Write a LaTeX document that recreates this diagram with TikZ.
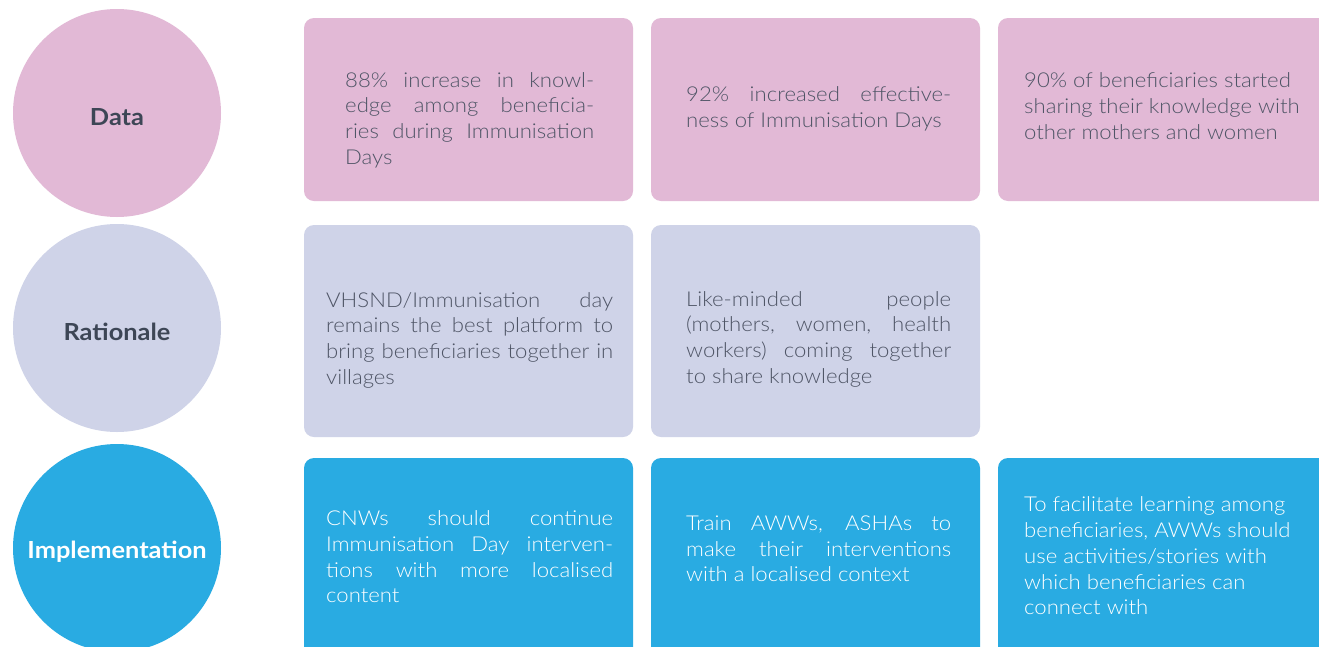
\documentclass[tikz,border=0pt]{standalone}
\usepackage{fontspec}
\setmainfont{Lato}[UprightFont=* Light, BoldFont=* Bold, FakeStretch=1.08]
\definecolor{datapink}{HTML}{E2B9D6}
\definecolor{ratlav}{HTML}{CFD3E8}
\definecolor{implblue}{HTML}{29ABE2}
\definecolor{bodygray}{HTML}{4F5566}
\definecolor{labeldark}{HTML}{3D4656}
% one justified line of fixed width, one natural line, and a block of lines
\newcommand\jl[2]{\hbox to #1{#2}}
\newcommand\rl[1]{\hbox{#1}}
\newcommand\blk[1]{\vbox{\baselineskip=25.7pt\lineskiplimit=-10pt #1}}
\tikzset{
  cat/.style={circle, minimum size=208pt, inner sep=0pt},
  catlabel/.style={inner sep=0pt, yshift=-4pt, font=\fontsize{23.5}{26}\selectfont\bfseries},
  card/.style={rounded corners=10pt},
  txt/.style={inner sep=0pt, anchor=west, font=\fontsize{20.5}{25.7}\selectfont},
}
\begin{document}
\begin{tikzpicture}[x=1pt, y=-1pt]
\useasboundingbox (0,0) rectangle (1319,646);
\clip (0,0) rectangle (1319,646);
\fill[white] (0,0) rectangle (1319,646);

% category circles and their labels
\node[cat, fill=datapink] (data) at (117,113) {};
\node[cat, fill=ratlav] (rat) at (117,328) {};
\node[cat, fill=implblue] (impl) at (117,548) {};
\node[catlabel, text=labeldark] (datalbl) at (data.center) {Data};
\node[catlabel, text=labeldark] (ratlbl) at (rat.center) {Rationale};
\node[catlabel, text=white] (impllbl) at (impl.center) {Implementation};

% cards
\fill[card, datapink] (304,18) rectangle (633,201);
\fill[card, datapink] (651,18) rectangle (980,201);
\fill[card, datapink] (998,18) rectangle (1340,201);
\fill[card, ratlav] (304,225) rectangle (633,437);
\fill[card, ratlav] (651,225) rectangle (980,437);
\fill[card, implblue] (304,458) rectangle (633,670);
\fill[card, implblue] (651,458) rectangle (980,670);
\fill[card, implblue] (998,458) rectangle (1340,670);

% data texts
\node[txt, text=bodygray] (d1) at (345,120) {\blk{%
  \jl{249pt}{88\% increase in knowl-}
  \jl{249pt}{edge among beneficia-}
  \jl{249pt}{ries during Immunisation}
  \rl{Days}}};
\node[txt, text=bodygray] (d2) at (686,109) {\blk{%
  \jl{265pt}{92\% increased effective-}
  \rl{ness of Immunisation Days}}};
\node[txt, text=bodygray] (d3) at (1024,106) {\blk{%
  \rl{90\% of beneficiaries started}
  \rl{sharing their knowledge with}
  \rl{other mothers and women}}};

% rationale texts
\node[txt, text=bodygray] (r1) at (326,340) {\blk{%
  \jl{287pt}{VHSND/Immunisation day}
  \jl{287pt}{remains the best platform to}
  \jl{287pt}{bring beneficiaries together in}
  \rl{villages}}};
\node[txt, text=bodygray] (r2) at (686,339) {\blk{%
  \jl{265pt}{Like-minded people}
  \jl{265pt}{(mothers, women, health}
  \jl{265pt}{workers) coming together}
  \rl{to share knowledge}}};

% implementation texts
\node[txt, text=white] (i1) at (326,557) {\blk{%
  \jl{287pt}{CNWs should continue}
  \jl{287pt}{Immunisation Day interven-}
  \jl{287pt}{tions with more localised}
  \rl{content}}};
\node[txt, text=white] (i2) at (686,549) {\blk{%
  \jl{265pt}{Train AWWs, ASHAs to}
  \jl{265pt}{make their interventions}
  \rl{with a localised context}}};
\node[txt, text=white] (i3) at (1024,556) {\blk{%
  \rl{To facilitate learning among}
  \rl{beneficiaries, AWWs should}
  \rl{use activities/stories with}
  \rl{which beneficiaries can}
  \rl{connect with}}};
\end{tikzpicture}
\end{document}
